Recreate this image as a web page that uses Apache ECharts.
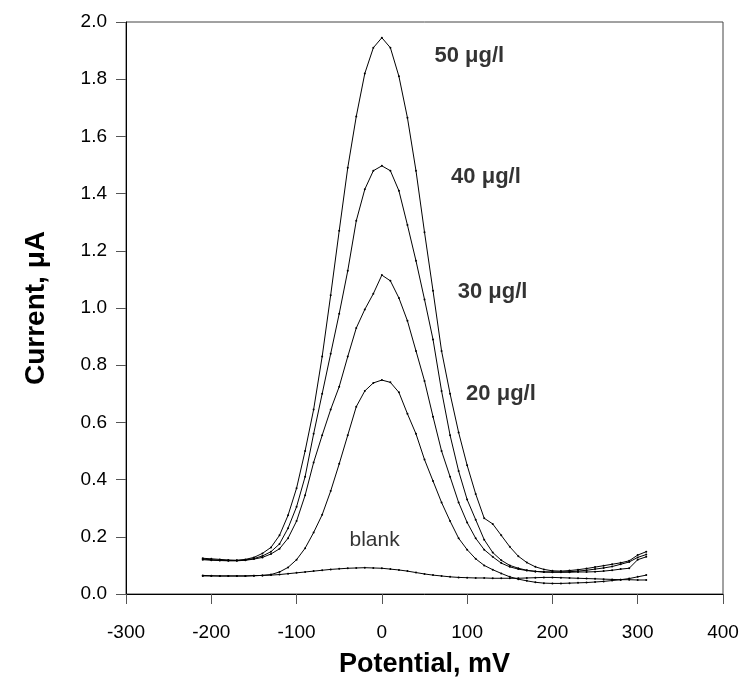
<!DOCTYPE html>
<html>
<head>
<meta charset="utf-8">
<script src="https://cdn.jsdelivr.net/npm/echarts@6/dist/echarts.min.js"></script>
<style>
  html, body { margin: 0; padding: 0; background: #fff; }
  #chart { width: 744px; height: 691px; }
</style>
</head>
<body>
<div id="chart"></div>
<script>
// potential, mV (one reading every 10 mV)
const potential = [
  -210, -200, -190, -180, -170, -160, -150, -140, -130, -120,
  -110, -100, -90, -80, -70, -60, -50, -40, -30, -20,
  -10, 0, 10, 20, 30, 40, 50, 60, 70, 80,
  90, 100, 110, 120, 130, 140, 150, 160, 170, 180,
  190, 200, 210, 220, 230, 240, 250, 260, 270, 280,
  290, 300, 310
];

// current, uA
const c50 = [
  0.125, 0.123, 0.121, 0.119, 0.118, 0.121, 0.128, 0.142, 0.163, 0.205,
  0.275, 0.37, 0.50, 0.645, 0.83, 1.045, 1.27, 1.49, 1.67, 1.82,
  1.91, 1.945, 1.91, 1.81, 1.665, 1.48, 1.265, 1.06, 0.85, 0.70,
  0.565, 0.45, 0.35, 0.265, 0.245, 0.205, 0.165, 0.132, 0.11, 0.095,
  0.086, 0.081, 0.08, 0.082, 0.085, 0.089, 0.094, 0.099, 0.104, 0.109,
  0.116, 0.136, 0.148
];
const c40 = [
  0.122, 0.12, 0.118, 0.117, 0.117, 0.119, 0.124, 0.133, 0.148, 0.175,
  0.23, 0.305, 0.41, 0.56, 0.70, 0.84, 0.98, 1.13, 1.305, 1.415,
  1.48, 1.497, 1.48, 1.41, 1.29, 1.165, 1.03, 0.89, 0.71, 0.555,
  0.43, 0.33, 0.26, 0.19, 0.145, 0.118, 0.10, 0.09, 0.083, 0.079,
  0.077, 0.077, 0.077, 0.078, 0.08, 0.083, 0.087, 0.091, 0.096, 0.104,
  0.112, 0.128, 0.138
];
const c30 = [
  0.12, 0.118, 0.117, 0.116, 0.116, 0.118, 0.122, 0.128, 0.14, 0.158,
  0.195, 0.255, 0.345, 0.46, 0.555, 0.645, 0.725, 0.83, 0.93, 0.995,
  1.05, 1.115, 1.095, 1.035, 0.955, 0.85, 0.745, 0.62, 0.50, 0.41,
  0.32, 0.25, 0.195, 0.155, 0.13, 0.108, 0.095, 0.087, 0.082, 0.079,
  0.077, 0.076, 0.076, 0.076, 0.077, 0.077, 0.078, 0.08, 0.083, 0.087,
  0.09, 0.12, 0.13
];
const c20 = [
  0.065, 0.064, 0.063, 0.063, 0.063, 0.063, 0.064, 0.065, 0.068, 0.077,
  0.093, 0.12, 0.16, 0.215, 0.277, 0.36, 0.455, 0.555, 0.655, 0.71,
  0.738, 0.748, 0.74, 0.705, 0.63, 0.56, 0.47, 0.395, 0.32, 0.255,
  0.195, 0.155, 0.123, 0.10, 0.085, 0.072, 0.06, 0.052, 0.046, 0.041,
  0.038, 0.037, 0.037, 0.038, 0.039, 0.04, 0.042, 0.044, 0.047, 0.05,
  0.054, 0.06, 0.066
];
const blank = [
  0.063, 0.063, 0.063, 0.063, 0.063, 0.063, 0.064, 0.065, 0.066, 0.068,
  0.071, 0.074, 0.077, 0.08, 0.083, 0.086, 0.088, 0.09, 0.091, 0.092,
  0.091, 0.09, 0.087, 0.084, 0.08, 0.075, 0.07, 0.066, 0.063, 0.06,
  0.058, 0.057, 0.056, 0.056, 0.055, 0.055, 0.055, 0.055, 0.056, 0.057,
  0.058, 0.058, 0.057, 0.056, 0.055, 0.054, 0.053, 0.052, 0.051, 0.05,
  0.05, 0.049, 0.049
];

// curve labels: [potential, current, text, bold]
const curveLabels = [
  [61.7, 1.883, '50 μg/l', true],
  [81.2, 1.458, '40 μg/l', true],
  [89, 1.056, '30 μg/l', true],
  [98.8, 0.701, '20 μg/l', true],
  [-38, 0.189, 'blank', false]
];

const FONT = '"Liberation Sans", Arial, sans-serif';

function toPairs(ys) {
  return potential.map((x, i) => [x, ys[i]]);
}

function curve(name, ys) {
  return {
    name: name,
    type: 'line',
    data: toPairs(ys),
    symbol: 'circle',
    symbolSize: 2,
    showAllSymbol: true,
    itemStyle: { color: '#000' },
    lineStyle: { color: '#000', width: 1 },
    silent: true,
    animation: false
  };
}

const chart = echarts.init(document.getElementById('chart'), null, { renderer: 'canvas' });

chart.setOption({
  backgroundColor: '#fff',
  animation: false,
  grid: {
    left: 126, top: 22, right: 21, bottom: 97,
    show: true, borderColor: '#444', borderWidth: 1
  },
  xAxis: {
    type: 'value',
    min: -300, max: 400, interval: 100,
    name: 'Potential, mV',
    nameLocation: 'middle',
    nameGap: 57,
    nameTextStyle: { fontFamily: FONT, fontWeight: 'bold', fontSize: 27, color: '#000' },
    axisLine: { onZero: false, lineStyle: { color: '#000', width: 1 } },
    axisTick: { inside: false, length: 10, lineStyle: { color: '#555' } },
    axisLabel: { fontFamily: FONT, fontSize: 19, color: '#000', margin: 29 },
    splitLine: { show: false }
  },
  yAxis: {
    type: 'value',
    min: 0, max: 2, interval: 0.2,
    name: 'Current, μA',
    nameLocation: 'middle',
    nameGap: 76,
    nameTextStyle: { fontFamily: FONT, fontWeight: 'bold', fontSize: 28, color: '#000' },
    axisLine: { onZero: false, lineStyle: { color: '#000', width: 1 } },
    axisTick: { inside: false, length: 10, lineStyle: { color: '#555' } },
    axisLabel: {
      fontFamily: FONT, fontSize: 19, color: '#000', margin: 19,
      formatter: (v) => v.toFixed(1)
    },
    splitLine: { show: false }
  },
  series: [
    curve('50 μg/l', c50),
    curve('40 μg/l', c40),
    curve('30 μg/l', c30),
    curve('20 μg/l', c20),
    curve('blank', blank),
    {
      type: 'scatter',
      data: curveLabels.map((d) => ({
        value: [d[0], d[1]],
        label: {
          formatter: d[2],
          fontWeight: d[3] ? 'bold' : 'normal',
          fontSize: d[3] ? 22 : 21
        }
      })),
      symbolSize: 0,
      silent: true,
      label: {
        show: true,
        position: 'right',
        distance: 0,
        align: 'left',
        verticalAlign: 'middle',
        fontFamily: FONT,
        color: '#000'
      }
    }
  ]
});
</script>
</body>
</html>
